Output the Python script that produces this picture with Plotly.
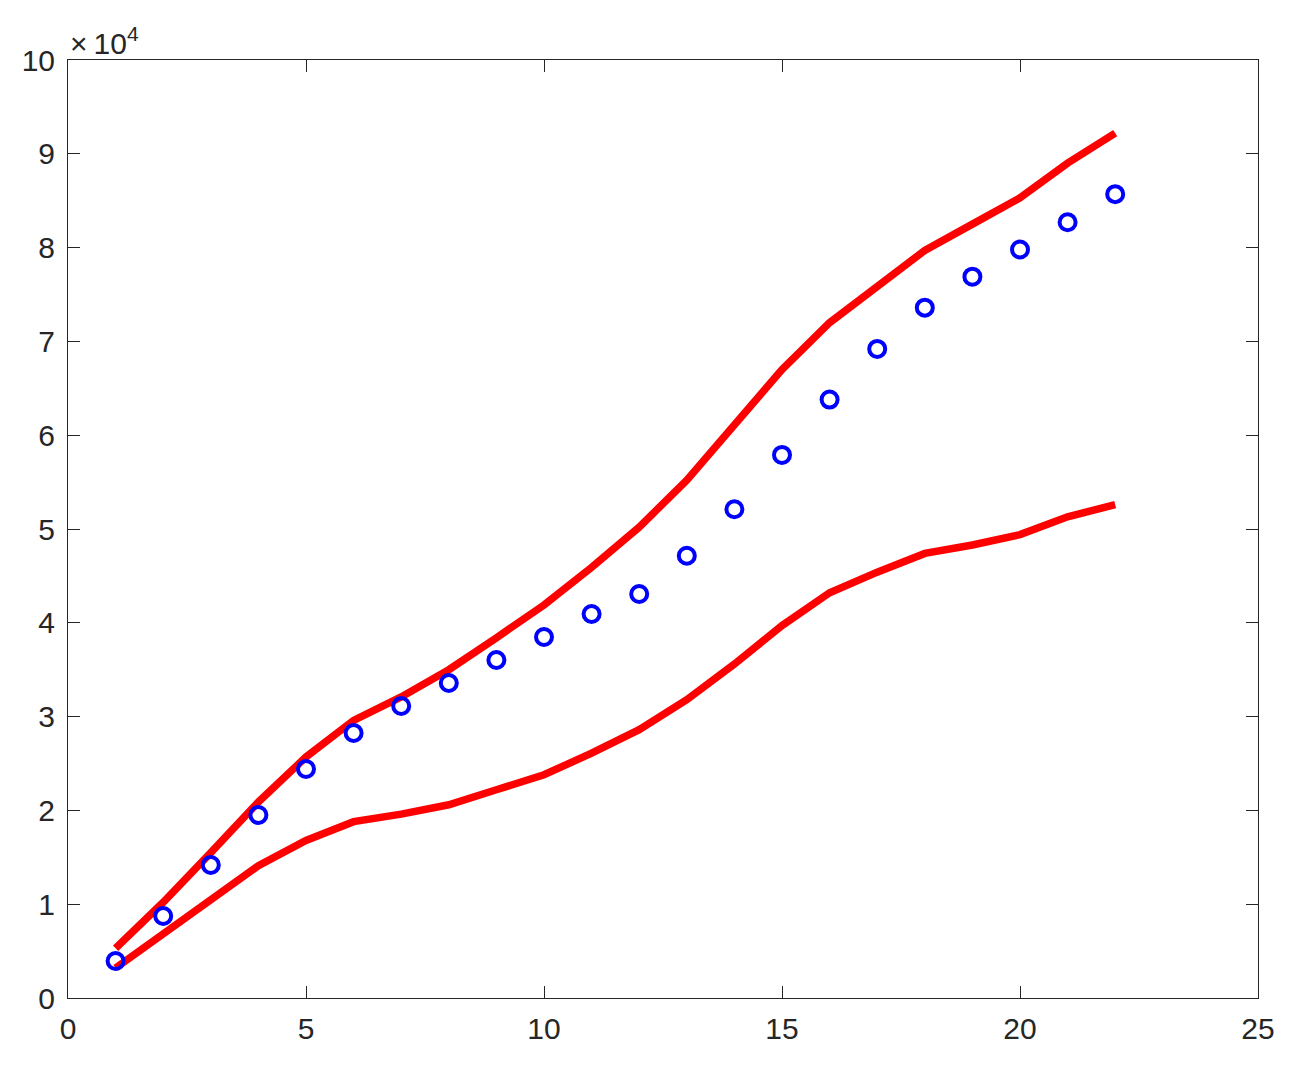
import plotly.graph_objects as go

x = list(range(1, 23))

# values in units of 1e4
mean_vals = [0.394, 0.874, 1.418, 1.951, 2.441, 2.825, 3.113, 3.358, 3.603, 3.849, 4.094,
             4.307, 4.715, 5.21, 5.79, 6.38, 6.92, 7.36, 7.69, 7.98, 8.27, 8.57]
upper_vals = [0.53, 1.02, 1.55, 2.09, 2.57, 2.96, 3.21, 3.50, 3.84, 4.19, 4.59,
              5.02, 5.52, 6.10, 6.70, 7.20, 7.58, 7.97, 8.25, 8.53, 8.90, 9.22]
lower_vals = [0.32, 0.69, 1.04, 1.41, 1.68, 1.88, 1.96, 2.06, 2.22, 2.38, 2.61,
              2.86, 3.18, 3.56, 3.97, 4.32, 4.54, 4.74, 4.83, 4.94, 5.13, 5.26]

x_ticks = [0, 5, 10, 15, 20, 25]
y_ticks = list(range(0, 11))

font = {"family": "Liberation Sans", "size": 30, "color": "#262626"}

fig = go.Figure()
for vals in (upper_vals, lower_vals):
    fig.add_trace(go.Scatter(x=x, y=vals, mode="lines",
                             line={"color": "#ff0000", "width": 7.5}))
fig.add_trace(go.Scatter(
    x=x, y=mean_vals, mode="markers",
    marker={"symbol": "circle-open", "size": 16, "color": "#0000ff",
            "line": {"color": "#0000ff", "width": 4}},
))

axis_style = dict(
    showgrid=False, zeroline=False, showline=True, linecolor="#262626",
    linewidth=1, mirror="ticks", ticks="inside", ticklen=12,
    tickcolor="#262626", tickfont=font,
)
fig.update_xaxes(range=[0, 25], tickvals=x_ticks, ticklabelstandoff=4, **axis_style)
fig.update_yaxes(range=[0, 10], tickvals=y_ticks, ticklabelstandoff=6, **axis_style)

fig.add_annotation(
    x=0, y=1, xref="paper", yref="paper", xanchor="left", yanchor="bottom",
    text="×\u200910<sup>4</sup>", showarrow=False, xshift=0, yshift=-2,
    font=font,
)

# page body adds an 8px offset, margins compensate for it
fig.update_layout(
    width=1304, height=1068, showlegend=False,
    plot_bgcolor="white", paper_bgcolor="white",
    margin={"l": 60, "r": 54, "t": 52, "b": 78},
)
fig.write_html("out.html")
